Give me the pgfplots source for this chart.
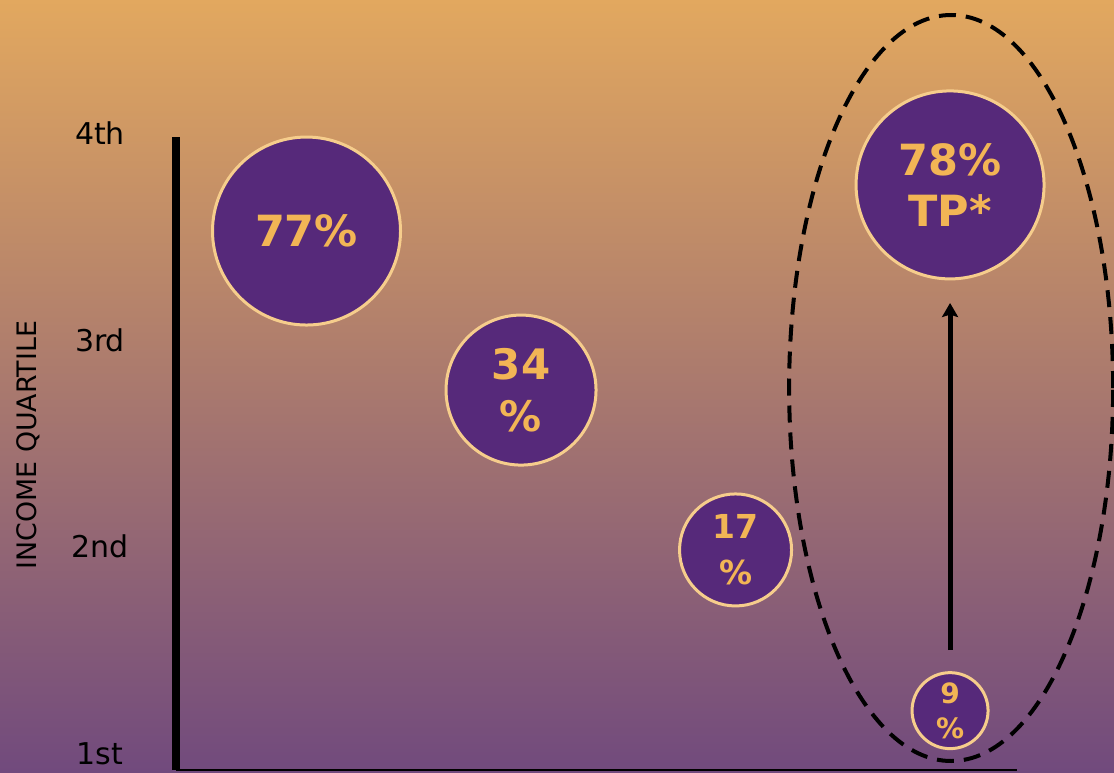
\documentclass[border=0pt]{standalone}
\usepackage{fontspec}
\setmainfont{DejaVu Sans}
\usepackage{pgfplots}
\pgfplotsset{compat=1.18}
\usepackage{pgfplotstable}
\usetikzlibrary{arrows.meta}
\definecolor{bgtop}{RGB}{226,168,95}
\definecolor{bgbot}{RGB}{113,74,125}
\definecolor{bubble}{RGB}{86,41,122}
\definecolor{bubbleedge}{RGB}{246,205,140}
\definecolor{lbl}{RGB}{242,181,85}

\pgfplotstableread{
x y r
1 3.526 47
2 2.757 37.5
3 1.984 28
4 1.207 19
4 3.749 47
}\bubbles

\begin{document}
\begin{tikzpicture}
\useasboundingbox (0,0) rectangle (557pt,386pt);
\shade[top color=bgtop, bottom color=bgbot] (0,0) rectangle (557pt,386pt);
\begin{axis}[
  at={(88pt,1pt)}, anchor=south west,
  scale only axis, width=420.5pt, height=318.5pt,
  xmin=0.3916, xmax=4.312, ymin=0.920, ymax=4,
  axis x line*=bottom, axis y line*=left,
  x axis line style={line width=1pt, -},
  y axis line style={line width=4pt, -, shorten >=2pt},
  xtick=\empty,
  ytick={1,2,3,4},
  yticklabels={1st,2nd,3rd,4th},
  major tick length=0pt,
  yticklabel style={anchor=center, xshift=-38pt, font=\fontsize{15}{18}\selectfont},
  ylabel={INCOME QUARTILE},
  ylabel style={at={(axis description cs:-0.1759,0.51)}, anchor=center, rotate=0, font=\fontsize{13.4}{16}\selectfont},
  clip=false,
]
\addplot[only marks, mark=*, scatter,
  visualization depends on={\thisrow{r}\as\rad},
  scatter/use mapped color={fill=bubble, draw=bubbleedge, line width=1.5pt},
  scatter/@pre marker code/.append style={/tikz/mark size=\rad pt}]
  table[x=x, y=y] {\bubbles};

\draw[line width=2pt, dash pattern=on 8.5pt off 5pt] (axis cs:4.005,2.767) ellipse [x radius=81pt, y radius=186.5pt];
\draw[line width=2.5pt, -{Stealth[length=7pt 0 0, width=8pt 0 0, inset=1.2pt]}] (axis cs:4,1.5) -- (axis cs:4,3.178);

\coordinate (b1) at (axis cs:1,3.526);
\coordinate (b2) at (axis cs:2,2.757);
\coordinate (b3) at (axis cs:3,1.984);
\coordinate (b4) at (axis cs:4,1.207);
\coordinate (b5) at (axis cs:4,3.749);
\end{axis}
\node[text=lbl, font=\bfseries\fontsize{21.5}{26}\selectfont, align=center] at (b1) {77\%};
\node[text=lbl, font=\bfseries\fontsize{21}{26}\selectfont, align=center] at (b2) {34\\\%};
\node[text=lbl, font=\bfseries\fontsize{16.5}{23}\selectfont, align=center] at (b3) {17\\\%};
\node[text=lbl, font=\bfseries\fontsize{14}{17.5}\selectfont, align=center] at (b4) {9\\\%};
\node[text=lbl, font=\bfseries\fontsize{21.5}{25.5}\selectfont, align=center] at (b5) {78\%\\TP*};
\end{tikzpicture}
\end{document}
